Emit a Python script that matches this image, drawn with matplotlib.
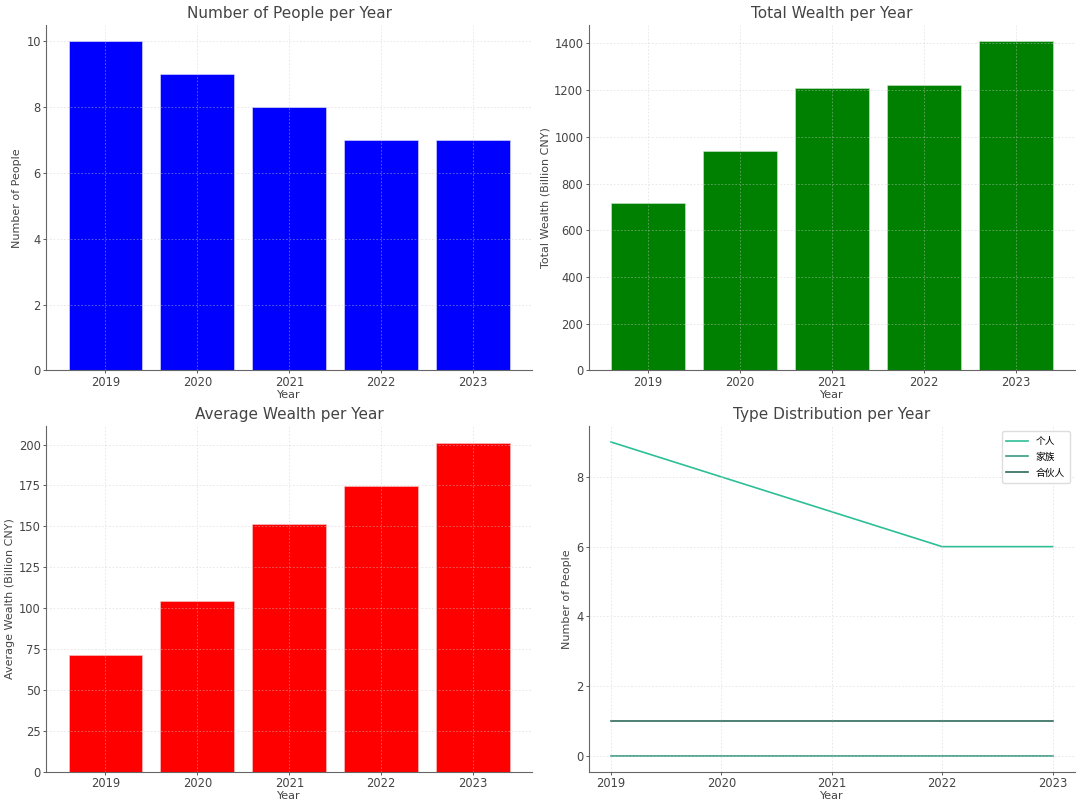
import matplotlib
matplotlib.use("Agg")
import matplotlib.pyplot as plt

years = [2019, 2020, 2021, 2022, 2023]
people = [10, 9, 8, 7, 7]
total_wealth = [715, 940, 1210, 1222, 1408]
avg_wealth = [71.5, 104.4, 151.25, 174.6, 201.1]

type_names = ["个人", "家族", "合伙人"]
type_counts = [
    [9, 8, 7, 6, 6],
    [0, 0, 0, 0, 0],
    [1, 1, 1, 1, 1],
]
type_colors = ["#2DBF96", "#3A9B82", "#2E6B5B"]

TXT = "#444444"
plt.rcParams.update({
    "font.family": ["DejaVu Sans", "Noto Sans CJK SC"],
    "font.size": 8.5,
    "axes.titlesize": 11,
    "axes.titlecolor": TXT,
    "axes.labelcolor": TXT,
    "axes.labelsize": 8,
    "xtick.color": TXT,
    "ytick.color": TXT,
    "xtick.labelsize": 8.3,
    "ytick.labelsize": 8.3,
    "axes.edgecolor": "#666666",
    "axes.spines.top": False,
    "axes.spines.right": False,
    "axes.axisbelow": False,
})

fig, axes = plt.subplots(2, 2, figsize=(10.8, 8.08), dpi=100)
fig.subplots_adjust(left=0.043, right=0.995, top=0.969, bottom=0.045,
                    wspace=0.117, hspace=0.162)


def style(ax, title, ylabel):
    ax.set_title(title, pad=5)
    ax.set_xlabel("Year", labelpad=0.5)
    ax.set_ylabel(ylabel, labelpad=3)
    ax.grid(True, linestyle=(0, (2.5, 2.5)), linewidth=0.5,
            color="#cccccc", alpha=0.6)
    ax.tick_params(length=2.5, width=0.6, pad=1.5)


ax = axes[0, 0]
ax.bar(years, people, color="blue", edgecolor="#e4e4ff", linewidth=0.4)
ax.set_xticks(years)
style(ax, "Number of People per Year", "Number of People")

ax = axes[0, 1]
ax.bar(years, total_wealth, color="green", edgecolor="#cfe8cf", linewidth=0.4)
ax.set_xticks(years)
style(ax, "Total Wealth per Year", "Total Wealth (Billion CNY)")

ax = axes[1, 0]
ax.bar(years, avg_wealth, color="red", edgecolor="#f6cccc", linewidth=0.4)
ax.set_xticks(years)
style(ax, "Average Wealth per Year", "Average Wealth (Billion CNY)")

ax = axes[1, 1]
for name, counts, c in zip(type_names, type_counts, type_colors):
    ax.plot(years, counts, color=c, linewidth=1.2, label=name)
ax.set_xticks(years)
style(ax, "Type Distribution per Year", "Number of People")
ax.legend(loc="upper right", fontsize=7, framealpha=1, edgecolor="#dddddd",
          handlelength=2.2, borderpad=0.5, labelspacing=0.6)

fig.savefig("out.png")
